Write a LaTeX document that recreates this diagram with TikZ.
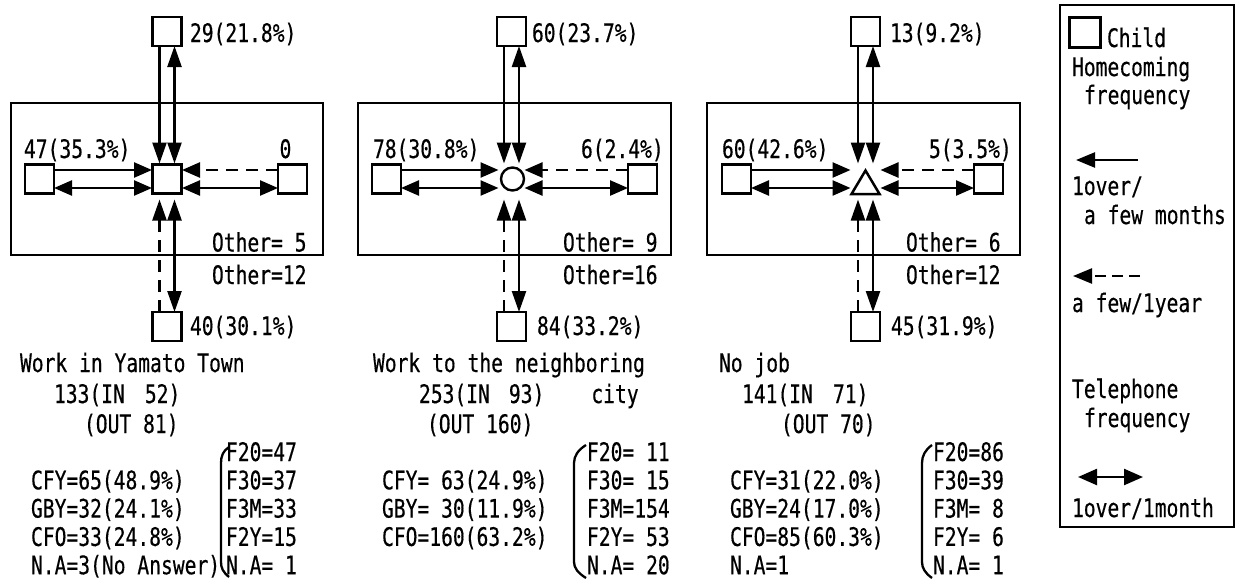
\documentclass[tikz,border=0pt]{standalone}
\usepackage{fontspec}
\usetikzlibrary{arrows.meta}
\newfontfamily\lblfont[FakeStretch=0.77,FakeBold=0.4]{DejaVu Sans Mono}
\newcommand\lbl{\lblfont\fontsize{25.5pt}{28pt}\selectfont}
\begin{document}
\begin{tikzpicture}[x=1pt,y=-1pt,
  txt/.style={anchor=base west, inner sep=0pt, outer sep=0pt, font=\lbl},
  sq/.style={draw, line width=2.8pt, minimum width=29pt, minimum height=29pt, inner sep=0pt, outer sep=0pt},
  frame/.style={draw, line width=2.5pt},
  hub/.style={inner sep=0pt, outer sep=0pt, minimum height=36pt},
  ln/.style={line width=2.4pt},
  dsh/.style={dash pattern=on 12pt off 8pt},
  vA/.style={ln, -{Triangle[length=21pt,width=14pt]}},
  vD/.style={ln, {Triangle[length=21pt,width=14pt]}-{Triangle[length=21pt,width=14pt]}},
  hA/.style={ln, -{Triangle[length=18pt,width=15pt]}},
  hD/.style={ln, {Triangle[length=18pt,width=15pt]}-{Triangle[length=18pt,width=15pt]}},
  brk/.style={line width=2.3pt},
]
\path[fill=white,use as bounding box] (0,0) rectangle (1236,581);

% ---------------- Panel 1 ----------------
\draw[frame] (11,103) rectangle (323,255);
\node[sq] (p1t) at (167,31.5) {};
\node[sq] (p1l) at (39.5,179) {};
\node[sq] (p1r) at (292.5,179) {};
\node[sq] (p1b) at (167,326.5) {};
\node[sq] (p1c) at (167,179) {};
\node[hub, minimum width=30pt] (p1h) at (167,181.5) {};

% ---------------- Panel 2 ----------------
\draw[frame] (358,103) rectangle (671,255);
\node[sq] (p2t) at (511.5,31.5) {};
\node[sq] (p2l) at (386.5,179) {};
\node[sq] (p2r) at (642.5,179) {};
\node[sq] (p2b) at (511.5,326.5) {};
\node[draw, circle, line width=2.4pt, minimum size=23pt, inner sep=0pt] (p2c) at (512.5,179) {};
\node[hub, minimum width=26pt] (p2h) at (511.5,181.5) {};

% ---------------- Panel 3 ----------------
\draw[frame] (707,103) rectangle (1020,255);
\node[sq] (p3t) at (865.5,31.5) {};
\node[sq] (p3l) at (736.5,179) {};
\node[sq] (p3r) at (988.5,179) {};
\node[sq] (p3b) at (865.5,326.5) {};
\draw[line width=2.5pt, line join=miter] (865.5,170.5) -- (851.5,194) -- (879.5,194) -- cycle;
\node[hub, minimum width=30pt] (p3h) at (865.5,181.5) {};

% ---------------- arrows ----------------
\foreach \p in {p1,p2,p3}{
  \draw[vA] ([xshift=-7.5pt]\p t.south) -- ([xshift=-7.5pt]\p h.north);
  \draw[vD] ([xshift=7.5pt]\p h.north) -- ([xshift=7.5pt]\p t.south);
  \draw[vA,dsh] ([xshift=-7.5pt]\p b.north) -- ([xshift=-7.5pt]\p h.south);
  \draw[vD] ([xshift=7.5pt]\p h.south) -- ([xshift=7.5pt]\p b.north);
  \draw[hA] ([yshift=9pt]\p l.east) -- ([yshift=11.5pt]\p h.west);
  \draw[hD] ([yshift=-9pt]\p l.east) -- ([yshift=-6.5pt]\p h.west);
  \draw[hA,dsh] ([yshift=9pt]\p r.west) -- ([yshift=11.5pt]\p h.east);
  \draw[hD] ([yshift=-6.5pt]\p h.east) -- ([yshift=-9pt]\p r.west);
}

% ---------------- Panel 1 texts ----------------
\node[txt] (a1) at (190,42) {29(21.8\%)};
\node[txt] (a2) at (24,158) {47(35.3\%)};
\node[anchor=base, inner sep=0pt, font=\lbl] (a3) at (285.5,158) {0};
\node[txt] (a4) at (212,251.5) {Other= 5};
\node[txt] (a5) at (212,284) {Other=12};
\node[txt] (a6) at (190,335) {40(30.1\%)};
\node[txt] (a7) at (20,372) {Work in Yamato Town};
\node[txt] (a8) at (54,403) {133(IN\hspace{20pt}52)};
\node[txt] (a9) at (84,433) {(OUT 81)};
\node[txt] (a10) at (226,461) {F20=47};
\node[txt] (a11) at (31,489.3) {CFY=65(48.9\%)};
\node[txt] (a12) at (226,489.3) {F30=37};
\node[txt] (a13) at (31,517.6) {GBY=32(24.1\%)};
\node[txt] (a14) at (226,517.6) {F3M=33};
\node[txt] (a15) at (31,545.9) {CFO=33(24.8\%)};
\node[txt] (a16) at (226,545.9) {F2Y=15};
\node[txt] (a17) at (31,574.2) {N.A=3(No Answer)};
\node[txt] (a18) at (226,574.2) {N.A= 1};
\draw[brk] (229,447) .. controls (223,451) and (221,456) .. (221,463) -- (221,562) .. controls (221,568) and (223,572) .. (229,577);

% ---------------- Panel 2 texts ----------------
\node[txt] (b1) at (532,42) {60(23.7\%)};
\node[txt] (b2) at (373,158) {78(30.8\%)};
\node[txt] (b3) at (581,158) {6(2.4\%)};
\node[txt] (b4) at (563,251.5) {Other= 9};
\node[txt] (b5) at (563,284) {Other=16};
\node[txt] (b6) at (537,335) {84(33.2\%)};
\node[txt] (b7) at (373,372) {Work to the neighboring};
\node[txt] (b8) at (419,403) {253(IN\hspace{19pt}93)\hspace{47pt}city};
\node[txt] (b9) at (427,433) {(OUT 160)};
\node[txt] (b10) at (587,461) {F20= 11};
\node[txt] (b11) at (382,489.3) {CFY= 63(24.9\%)};
\node[txt] (b12) at (587,489.3) {F30= 15};
\node[txt] (b13) at (382,517.6) {GBY= 30(11.9\%)};
\node[txt] (b14) at (587,517.6) {F3M=154};
\node[txt] (b15) at (382,545.9) {CFO=160(63.2\%)};
\node[txt] (b16) at (587,545.9) {F2Y= 53};
\node[txt] (b17) at (587,574.2) {N.A= 20};
\draw[brk] (586,445) .. controls (578,450) and (574,456) .. (574,463) -- (574,562) .. controls (574,568) and (578,573) .. (586,578);

% ---------------- Panel 3 texts ----------------
\node[txt] (c1) at (890,42) {13(9.2\%)};
\node[txt] (c2) at (722,158) {60(42.6\%)};
\node[txt] (c3) at (929,158) {5(3.5\%)};
\node[txt] (c4) at (906,251.5) {Other= 6};
\node[txt] (c5) at (906,284) {Other=12};
\node[txt] (c6) at (891,335) {45(31.9\%)};
\node[txt] (c7) at (719,372) {No job};
\node[txt] (c8) at (742,403) {141(IN\hspace{20pt}71)};
\node[txt] (c9) at (781,433) {(OUT 70)};
\node[txt] (c10) at (933,461) {F20=86};
\node[txt] (c11) at (730,489.3) {CFY=31(22.0\%)};
\node[txt] (c12) at (933,489.3) {F30=39};
\node[txt] (c13) at (730,517.6) {GBY=24(17.0\%)};
\node[txt] (c14) at (933,517.6) {F3M= 8};
\node[txt] (c15) at (730,545.9) {CFO=85(60.3\%)};
\node[txt] (c16) at (933,545.9) {F2Y= 6};
\node[txt] (c17) at (730,574.2) {N.A=1};
\node[txt] (c18) at (933,574.2) {N.A= 1};
\draw[brk] (932,445) .. controls (925,450) and (922,456) .. (922,463) -- (922,562) .. controls (922,568) and (925,573) .. (932,578);

% ---------------- Legend ----------------
\draw[frame] (1060,5) rectangle (1234,527);
\node[sq, minimum width=31pt, minimum height=30pt] (lgsq) at (1085,32.5) {};
\node[txt] (lg1) at (1107,47) {Child};
\node[txt] (lg2) at (1072,76) {Homecoming};
\node[txt] (lg3) at (1084,104) {frequency};
\coordinate (la1) at (1138,160);
\coordinate (la2) at (1076,160);
\draw[ln, -{Triangle[length=19pt,width=15pt]}] (la1) -- (la2);
\node[txt] (lg4) at (1072,195) {1over/};
\node[txt] (lg5) at (1084,224) {a few months};
\coordinate (lb1) at (1140,276);
\coordinate (lb2) at (1073,276);
\draw[ln, dash pattern=on 11pt off 6pt, -{Triangle[length=19pt,width=15pt]}] (lb1) -- (lb2);
\node[txt] (lg6) at (1072,312) {a few/1year};
\node[txt] (lg7) at (1072,398) {Telephone};
\node[txt] (lg8) at (1084,427) {frequency};
\coordinate (lc1) at (1078,477);
\coordinate (lc2) at (1143,477);
\draw[ln, {Triangle[length=19pt,width=16pt]}-{Triangle[length=19pt,width=16pt]}] (lc1) -- (lc2);
\node[txt] (lg9) at (1072,517) {1over/1month};
\end{tikzpicture}
\end{document}
